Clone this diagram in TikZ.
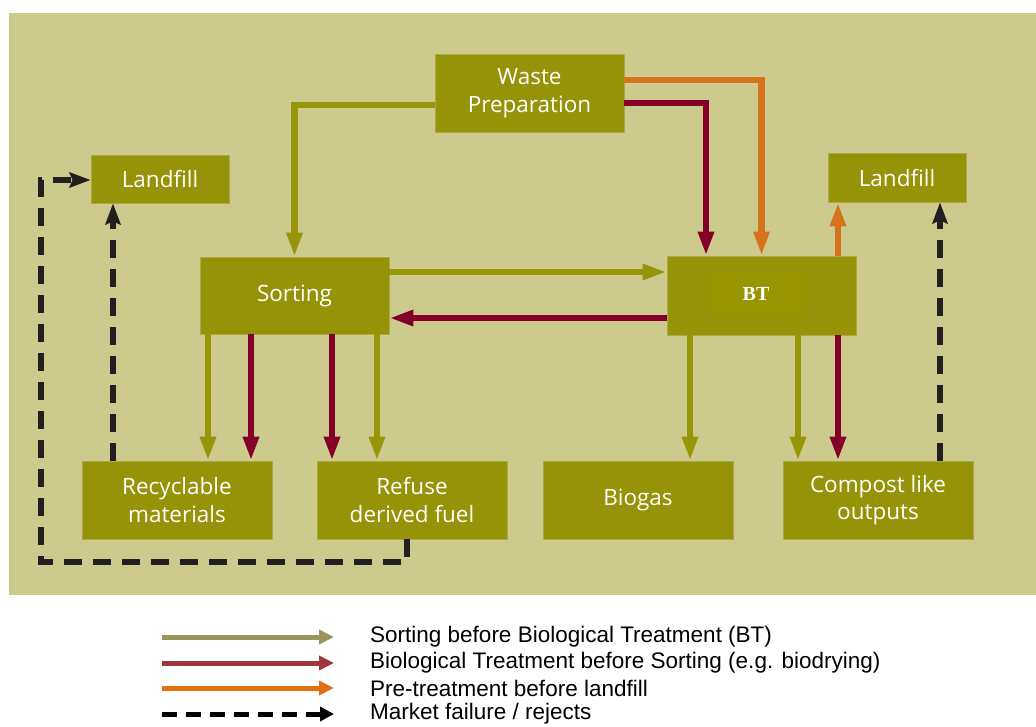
\documentclass[tikz,border=0pt]{standalone}
\usepackage{fontspec}
\setmainfont{Open Sans}
\newfontfamily\legfont{Liberation Sans}
\newfontfamily\btfont{Liberation Serif}
\usetikzlibrary{arrows.meta}
\definecolor{bgc}{HTML}{CCCA8D}
\definecolor{boxc}{HTML}{959408}
\definecolor{boxedge}{HTML}{ACAA45}
\definecolor{innerc}{HTML}{979500}
\definecolor{olivec}{HTML}{979508}
\definecolor{redc}{HTML}{83002A}
\definecolor{orangec}{HTML}{D6731C}
\definecolor{legolive}{HTML}{9A9458}
\definecolor{legred}{HTML}{A0363A}
\definecolor{legorange}{HTML}{E07012}
\definecolor{darkc}{HTML}{231F20}
\tikzset{
  box/.style={fill=boxc, draw=boxedge, line width=0.8pt, text=white, inner sep=0pt,
    align=center, font=\fontsize{22.5}{27.5}\selectfont},
  flow/.style={line width=6.5pt, -{Triangle[width=15pt,length=24pt]}},
  oliveflow/.style={flow, draw=olivec},
  redflow/.style={flow, draw=redc},
  orangeflow/.style={flow, draw=orangec},
  rejectflow/.style={draw=darkc, line width=6.5pt, dash pattern=on 18pt off 11pt,
    -{Stealth[width=15pt,length=21pt,inset=3pt]}},
  legline/.style={line width=5pt, -{Triangle[width=14pt,length=15pt]}},
  legtext/.style={anchor=west, inner sep=0pt, font=\legfont\fontsize{22.5}{26}\selectfont}
}
\begin{document}
\begin{tikzpicture}[x=1pt,y=-1pt]
\useasboundingbox (0,0) rectangle (1036,726);
\fill[bgc] (9,13) rectangle (1036,595);

% boxes
\node[box, minimum width=189pt, minimum height=78pt] (wp) at (529.5,93) {Waste\\Preparation};
\node[box, minimum width=138pt, minimum height=48pt] (lfl) at (160,179) {Landfill};
\node[box, minimum width=138pt, minimum height=49pt] (lfr) at (897,177.5) {Landfill};
\node[box, minimum width=189pt, minimum height=77pt] (sort) at (294.5,295.5) {Sorting};
\node[box, minimum width=189pt, minimum height=79pt] (bt) at (761.5,295.5) {};
\node[fill=innerc, inner sep=0pt, minimum width=96pt, minimum height=43pt, text=white,
  font=\btfont\bfseries\fontsize{20}{24}\selectfont] (btin) at (756,293.5) {BT};
\node[box, minimum width=190pt, minimum height=78pt] (rec) at (177,500) {Recyclable\\materials};
\node[box, minimum width=190pt, minimum height=78pt] (rdf) at (412,500) {Refuse\\derived fuel};
\node[box, minimum width=190pt, minimum height=78pt] (bio) at (638,500) {Biogas};
\node[box, minimum width=190pt, minimum height=78pt] (comp) at (878,500) {Compost like\\outputs};

% from waste preparation
\draw[oliveflow] (wp.west |- 0,105) -| (sort.north);
\draw[redflow] (wp.east |- 0,103) -| (bt.north -| 706,0);
\draw[orangeflow] (wp.east |- 0,80) -| (bt.north);

% between sorting and BT
\draw[oliveflow] (sort.east |- 0,272) -- (bt.west |- 0,272);
\draw[redflow] (bt.west |- 0,318) -- (sort.east |- 0,318);

% BT to landfill
\draw[orangeflow] (bt.north -| 838,0) -- (lfr.south -| 838,0);

% sorting outputs
\draw[oliveflow] (sort.south -| 208,0) -- (rec.north -| 208,0);
\draw[redflow] (sort.south -| 251,0) -- (rec.north -| 251,0);
\draw[redflow] (sort.south -| 332,0) -- (rdf.north -| 332,0);
\draw[oliveflow] (sort.south -| 377,0) -- (rdf.north -| 377,0);

% BT outputs
\draw[oliveflow] (bt.south -| 690,0) -- (bio.north -| 690,0);
\draw[oliveflow] (bt.south -| 798,0) -- (comp.north -| 798,0);
\draw[redflow] (bt.south -| 838,0) -- (comp.north -| 838,0);

% rejects
\draw[rejectflow] (rec.north -| 113,0) -- (lfl.south -| 113,0);
\draw[rejectflow] (comp.north -| 940,0) -- (lfr.south -| 940,0);
\coordinate (r1) at (407,562);
\coordinate (r2) at (41,562);
\coordinate (r3) at (41,180);
\draw[rejectflow] (rdf.south -| r1) -- (r1) -- (r2) -- (r3) -- (lfl.west |- r3);

% legend
\coordinate (l1a) at (162,637); \coordinate (l1b) at (334,637);
\coordinate (l2a) at (162,663); \coordinate (l2b) at (334,663);
\coordinate (l3a) at (162,688); \coordinate (l3b) at (334,688);
\coordinate (l4a) at (162,714); \coordinate (l4b) at (334,714);
\draw[legline, draw=legolive] (l1a) -- (l1b);
\draw[legline, draw=legred] (l2a) -- (l2b);
\draw[legline, draw=legorange] (l3a) -- (l3b);
\draw[draw=black, line width=5pt, dash pattern=on 15pt off 9pt,
  -{Triangle[width=14pt,length=14pt]}] (l4a) -- (l4b);
\node[legtext] (t1) at (370,637) {Sorting before Biological Treatment (BT)};
\node[legtext] (t2) at (370,663) {Biological Treatment before Sorting (e.g. biodrying)};
\node[legtext] (t3) at (370,688) {Pre-treatment before landfill};
\node[legtext] (t4) at (370,714) {Market failure / rejects};
\end{tikzpicture}
\end{document}
